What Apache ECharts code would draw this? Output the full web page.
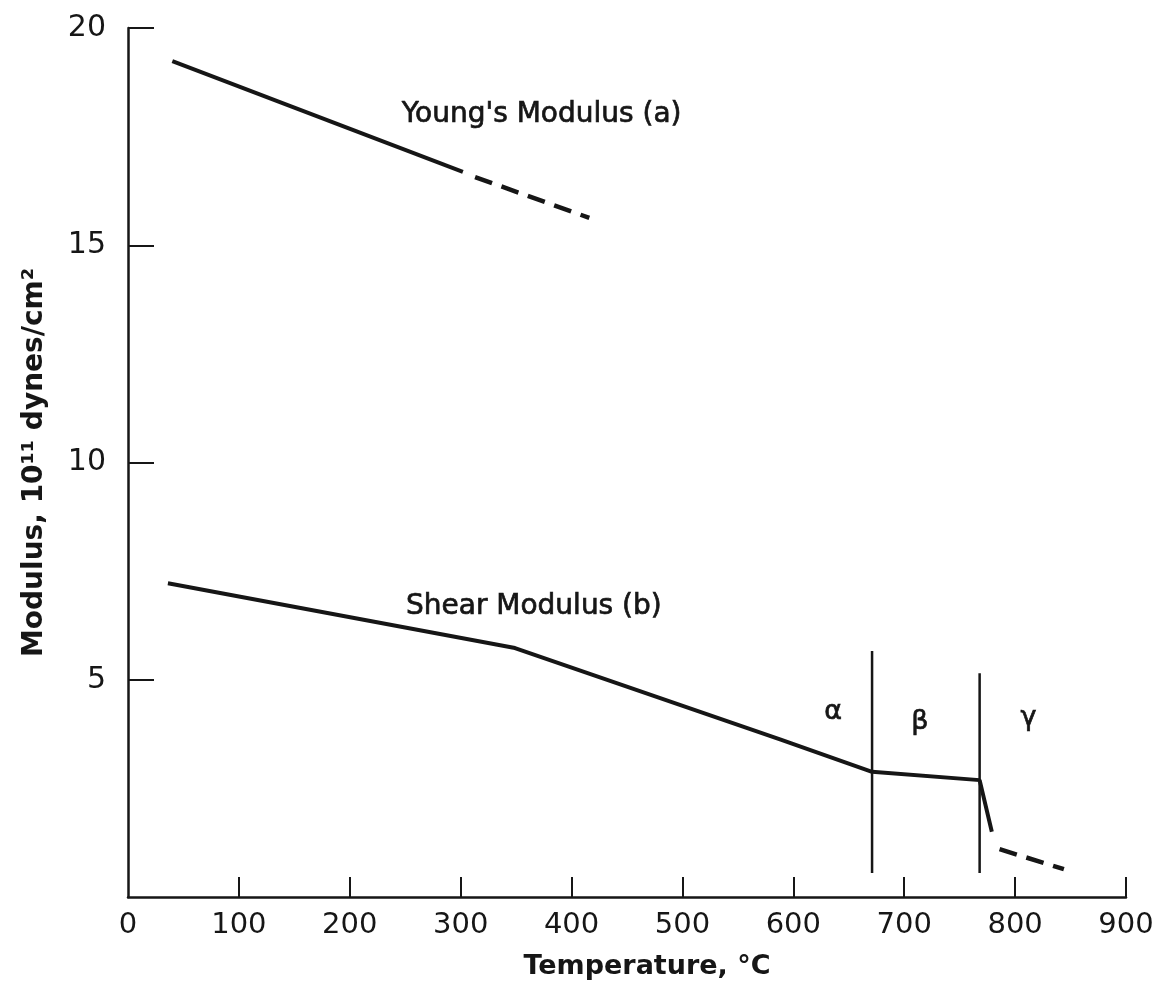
<!DOCTYPE html>
<html>
<head>
<meta charset="utf-8">
<script src="https://cdn.jsdelivr.net/npm/echarts@6/dist/echarts.min.js"></script>
<style>
  html, body { margin: 0; padding: 0; background: #fff; }
  #chart { width: 1160px; height: 995px; }
</style>
</head>
<body>
<div id="chart"></div>
<script>
// readings (temperature °C, modulus 10^11 dynes/cm^2)
const youngSolid = [[40, 19.24], [302, 16.69]];
const youngDashed = [[313, 16.57], [416, 15.63]];
const shearSolid = [[36, 7.22], [349, 5.73], [588, 3.63], [671, 2.88], [768, 2.69], [779, 1.5]];
const shearDashed = [[786, 1.1], [844, 0.64]];
const phaseLines = [
    [[671, 0.55], [671, 5.66]],
    [[768, 0.55], [768, 5.15]]
];
const curveLabels = [
    { name: "Young's Modulus (a)", value: [373, 18.0] },
    { name: 'Shear Modulus (b)', value: [366, 6.67] }
];
const phaseLabels = [
    { name: 'α', value: [636, 4.26] },
    { name: 'β', value: [714, 4.03] },
    { name: 'γ', value: [812, 4.12] }
];
const xTicks = [100, 200, 300, 400, 500, 600, 700, 800, 900];
const xLabels = [0, 100, 200, 300, 400, 500, 600, 700, 800, 900];
const yTicks = [5, 10, 15, 20];

const ink = '#161616';
const font = 'DejaVu Sans';

const chart = echarts.init(document.getElementById('chart'));

function line(data, dashed) {
    return {
        type: 'line',
        data: data,
        symbol: 'none',
        silent: true,
        animation: false,
        lineStyle: { color: ink, width: dashed ? 4.5 : 4, type: dashed ? [18, 10] : 'solid', cap: 'butt' }
    };
}

function textSeries(data, size) {
    return {
        type: 'scatter',
        data: data,
        symbolSize: 0,
        silent: true,
        animation: false,
        itemStyle: { opacity: 1 },
        label: {
            show: true,
            position: 'inside',
            formatter: p => p.name,
            color: ink,
            fontFamily: font,
            fontSize: size,
            textBorderColor: ink,
            textBorderWidth: 0.7
        }
    };
}

const series = [
    line(youngSolid, false),
    line(youngDashed, true),
    line(shearSolid, false),
    line(shearDashed, true),
    textSeries(curveLabels, 28),
    textSeries(phaseLabels, 27)
];
phaseLines.forEach(d => {
    const s = line(d, false);
    s.lineStyle.width = 2.5;
    series.push(s);
});

chart.setOption({
    backgroundColor: '#fff',
    grid: { left: 128, right: 34, top: 28, bottom: 98 },
    xAxis: {
        type: 'value',
        min: 0,
        max: 900,
        interval: 100,
        name: 'Temperature, °C',
        nameLocation: 'middle',
        nameGap: 56,
        nameTextStyle: { color: ink, fontFamily: font, fontSize: 27, fontWeight: 'bold', padding: [0, 0, 0, 40] },
        axisLine: { lineStyle: { color: ink, width: 2.5 } },
        axisTick: { inside: true, length: 20, customValues: xTicks, lineStyle: { color: ink, width: 2 } },
        axisLabel: { color: ink, fontFamily: font, fontSize: 29, margin: 14, customValues: xLabels },
        splitLine: { show: false }
    },
    yAxis: {
        type: 'value',
        min: 0,
        max: 20,
        interval: 5,
        name: 'Modulus, 10¹¹ dynes/cm²',
        nameLocation: 'middle',
        nameGap: 79,
        nameTextStyle: { color: ink, fontFamily: font, fontSize: 28, fontWeight: 'bold' },
        axisLine: { show: true, lineStyle: { color: ink, width: 2.5 } },
        axisTick: { inside: true, length: 26, customValues: yTicks, lineStyle: { color: ink, width: 2 } },
        axisLabel: { color: ink, fontFamily: font, fontSize: 30, margin: 22, customValues: yTicks },
        splitLine: { show: false }
    },
    series: series
});
</script>
</body>
</html>
